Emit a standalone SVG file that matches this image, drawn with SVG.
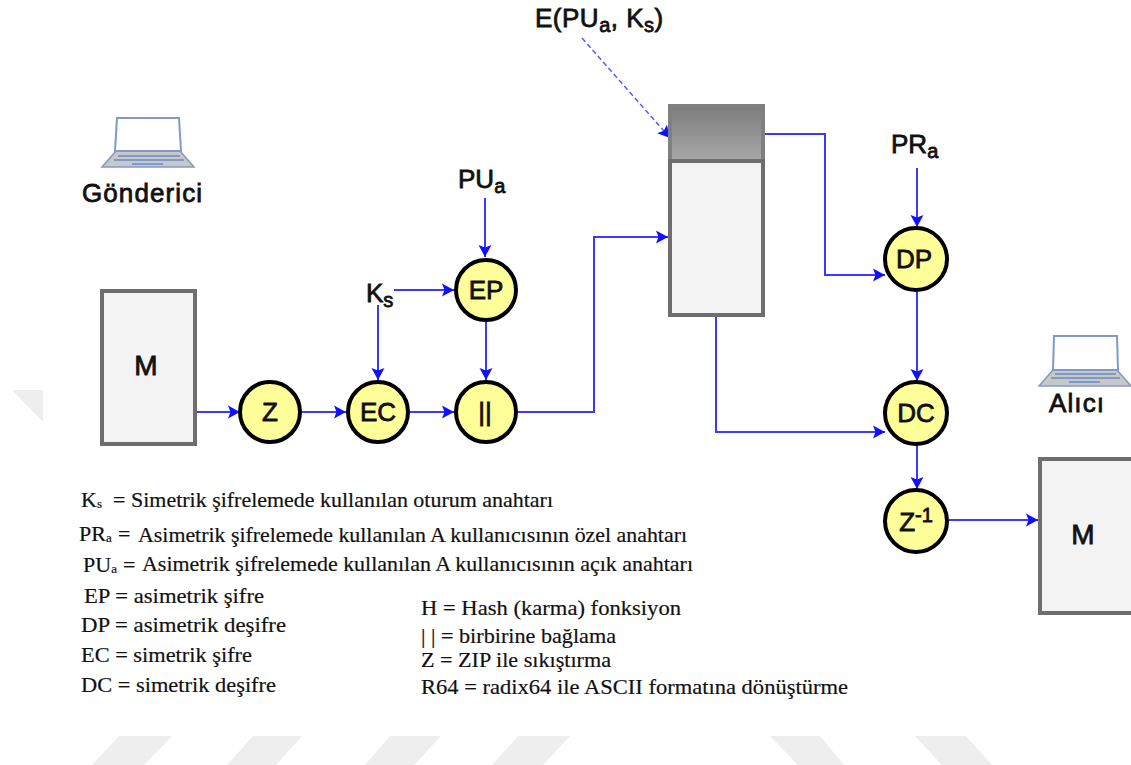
<svg xmlns="http://www.w3.org/2000/svg" width="1131" height="765" viewBox="0 0 1131 765">
<style>
.wm{fill:#eeeeee}
.box{fill:#f3f3f3;stroke:#6e6e6e;stroke-width:4}
.c{fill:#ffff99;stroke:#000;stroke-width:4}
.l,.s{font-family:"Liberation Sans",Arial,sans-serif;fill:#111;stroke:#111;stroke-width:.8px;font-size:26px}
.l{text-anchor:middle}
.b{font-size:20px}
.t{font-family:"Liberation Serif","Times New Roman",serif;fill:#111;stroke:#111;stroke-width:.2px;font-size:22px}
.u{font-size:13px}
.w{fill:none;stroke:#3a3aff;stroke-width:2}
.d{stroke:#5a5aff;stroke-width:1.5;stroke-dasharray:5 3}
.lap{fill:#fff;stroke:#7f9ac9;stroke-width:2}
.base{fill:#c8c8c8;stroke:#7f9ac9;stroke-width:1.5}
.key{fill:none;stroke:#7f9ac9;stroke-width:2}
</style>
<defs>
<marker id="a" markerUnits="userSpaceOnUse" markerWidth="14" markerHeight="14" refX="13" refY="7" orient="auto"><path d="M1 .5L13 7L1 13.5L3.5 7Z" fill="#1010ff"/></marker>
<linearGradient id="g" x1="0" y1="0" x2="0" y2="1"><stop offset="0" stop-color="#7c7c7c"/><stop offset="1" stop-color="#a8a8a8"/></linearGradient>
</defs>
<g id="watermark">
<path class="wm" d="M12 390H43V422Z"/>
<path class="wm" d="M119 736H172L144 765H92Z"/>
<path class="wm" d="M253 736H302L276 765H227Z"/>
<path class="wm" d="M390 736H441L414 765H365Z"/>
<path class="wm" d="M518 736H570L543 765H492Z"/>
<path class="wm" d="M770 736H820L844 765H798Z"/>
<path class="wm" d="M915 736H966L992 765H942Z"/>
</g>
<g id="connectors">
<path class="w" marker-end="url(#a)" d="M196 412H240"/>
<path class="w" marker-end="url(#a)" d="M302 412H346"/>
<path class="w" marker-end="url(#a)" d="M410 412H454"/>
<path class="w" marker-end="url(#a)" d="M518 412H594V237H668"/>
<path class="w" marker-end="url(#a)" d="M378 305V380"/>
<path class="w" marker-end="url(#a)" d="M394 290H454"/>
<path class="w" marker-end="url(#a)" d="M485 198V257"/>
<path class="w" marker-end="url(#a)" d="M486 322V380"/>
<path class="w d" marker-end="url(#a)" d="M582 38L670 138"/>
<path class="w" marker-end="url(#a)" d="M765 134H825V275H885"/>
<path class="w" marker-end="url(#a)" d="M716 317V432H885"/>
<path class="w" marker-end="url(#a)" d="M917 168V227"/>
<path class="w" marker-end="url(#a)" d="M917 291V381"/>
<path class="w" marker-end="url(#a)" d="M917 445V489"/>
<path class="w" marker-end="url(#a)" d="M949 520H1038"/>
</g>
<g id="laptop-sender">
<path class="base" d="M102 167L116 151H180L194 167Z"/>
<path class="lap" d="M117 118H179L181 151H115Z"/>
<path class="key" d="M118 156H180M114 160H184M132 164H163"/>
</g>
<g id="laptop-receiver">
<path class="base" d="M1039 386L1053 370H1117L1131 386Z"/>
<path class="lap" d="M1054 336H1117L1118 370H1053Z"/>
<path class="key" d="M1055 374H1116M1051 378H1120M1069 382H1100"/>
</g>
<text class="s" x="82" y="202" textLength="120">Gönderici</text>
<text class="s" x="1049" y="412" textLength="55">Alıcı</text>
<g id="label-E"><text class="s" x="535" y="27" letter-spacing=".5">E(PU<tspan class="b" dy="5">a</tspan><tspan dy="-5">, K</tspan><tspan class="b" dy="5">s</tspan><tspan dy="-5">)</tspan></text></g>
<g id="label-PUa"><text class="s" x="458" y="188">PU<tspan class="b" dy="5">a</tspan></text></g>
<g id="label-Ks"><text class="s" x="366" y="302">K<tspan class="b" dy="5">s</tspan></text></g>
<g id="label-PRa"><text class="s" x="891" y="153">PR<tspan class="b" dy="5">a</tspan></text></g>
<g id="node-M1"><rect class="box" x="102" y="291" width="93" height="153"/><text class="l" style="font-size:28px" x="146" y="375">M</text></g>
<g id="node-M2"><rect class="box" x="1040" y="459" width="95" height="154"/><text class="l" style="font-size:28px" x="1083" y="544">M</text></g>
<g id="node-store"><rect x="670" y="106" width="93" height="55" fill="url(#g)" stroke="#808080" stroke-width="4"/><rect x="670" y="161" width="93" height="154" fill="#f3f3f3" stroke="#6e6e6e" stroke-width="4"/></g>
<g id="node-Z"><circle class="c" cx="270" cy="412" r="30"/><text class="l" x="270" y="421">Z</text></g>
<g id="node-EC"><circle class="c" cx="378" cy="412" r="30"/><text class="l" x="378" y="421">EC</text></g>
<g id="node-concat"><circle class="c" cx="486" cy="412" r="30"/><text class="l" x="485" y="421">||</text></g>
<g id="node-EP"><circle class="c" cx="486" cy="290" r="30"/><text class="l" x="486" y="299">EP</text></g>
<g id="node-DP"><circle class="c" cx="916" cy="259" r="31"/><text class="l" x="914" y="268">DP</text></g>
<g id="node-DC"><circle class="c" cx="916" cy="413" r="31"/><text class="l" x="916" y="422">DC</text></g>
<g id="node-Zinv"><circle class="c" cx="916" cy="521" r="31"/><text class="l" x="916" y="531">Z<tspan class="b" dy="-9">-1</tspan></text></g>
<g id="legend">
<text class="t" x="81" y="507">K<tspan class="u" dy="1">s</tspan><tspan dy="-1" x="113">=</tspan></text>
<text class="t" x="131" y="507" textLength="422" lengthAdjust="spacingAndGlyphs">Simetrik şifrelemede kullanılan oturum anahtarı</text>
<text class="t" x="79" y="541">PR<tspan class="u" dy="1">a</tspan><tspan dy="-1" x="118">=</tspan></text>
<text class="t" x="138" y="542" textLength="549" lengthAdjust="spacingAndGlyphs">Asimetrik şifrelemede kullanılan A kullanıcısının özel anahtarı</text>
<text class="t" x="83" y="572">PU<tspan class="u" dy="1">a</tspan><tspan dy="-1" x="123">=</tspan></text>
<text class="t" x="142" y="571" textLength="551" lengthAdjust="spacingAndGlyphs">Asimetrik şifrelemede kullanılan A kullanıcısının açık anahtarı</text>
<text class="t" x="84" y="603" textLength="180" lengthAdjust="spacingAndGlyphs">EP = asimetrik şifre</text>
<text class="t" x="81" y="632" textLength="205" lengthAdjust="spacingAndGlyphs">DP = asimetrik deşifre</text>
<text class="t" x="81" y="662" textLength="171" lengthAdjust="spacingAndGlyphs">EC = simetrik şifre</text>
<text class="t" x="81" y="692" textLength="195" lengthAdjust="spacingAndGlyphs">DC = simetrik deşifre</text>
<text class="t" x="421" y="615" textLength="260" lengthAdjust="spacingAndGlyphs">H = Hash (karma) fonksiyon</text>
<text class="t" x="421" y="643" textLength="195" lengthAdjust="spacingAndGlyphs">| | = birbirine bağlama</text>
<text class="t" x="421" y="667" textLength="190" lengthAdjust="spacingAndGlyphs">Z = ZIP ile sıkıştırma</text>
<text class="t" x="421" y="694" textLength="427" lengthAdjust="spacingAndGlyphs">R64 = radix64 ile ASCII formatına dönüştürme</text>
</g>
</svg>
